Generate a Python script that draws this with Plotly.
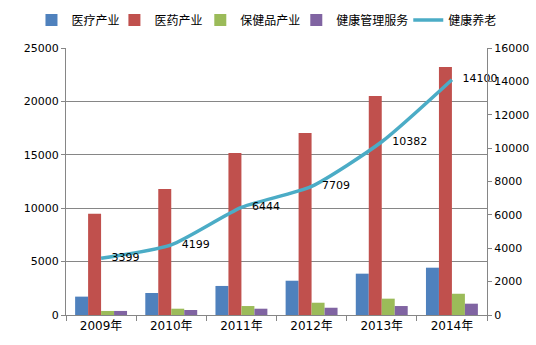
import plotly.graph_objects as go

years = ["2009年", "2010年", "2011年", "2012年", "2013年", "2014年"]
medical = [1720, 2060, 2720, 3210, 3870, 4430]
pharma = [9480, 11800, 15170, 17040, 20500, 23220]
healthprod = [380, 590, 840, 1150, 1530, 1990]
healthmgmt = [380, 470, 590, 680, 840, 1060]
elderly = [3399, 4199, 6444, 7709, 10382, 14100]

FONT = "DejaVu Sans, Noto Sans CJK SC, sans-serif"
GRID = "#868686"

fig = go.Figure()
bar_specs = [
    ("医疗产业", medical, "#4F81BD", "legend"),
    ("医药产业", pharma, "#C0504D", "legend2"),
    ("保健品产业", healthprod, "#9BBB59", "legend3"),
    ("健康管理服务", healthmgmt, "#8064A2", "legend4"),
]
for name, vals, col, lg in bar_specs:
    fig.add_trace(go.Bar(x=years, y=vals, name=name, legend=lg,
                         marker=dict(color=col, line=dict(width=0))))

fig.add_trace(go.Scatter(
    x=years, y=elderly, name="健康养老", yaxis="y2", legend="legend5",
    mode="lines+text", line=dict(color="#4BACC6", width=3.5, shape="spline", smoothing=0.6),
    text=["   " + str(v) for v in elderly], textposition="middle right",
    textfont=dict(family=FONT, size=11, color="#000000"), cliponaxis=False,
))

def leg(x):
    return dict(orientation="h", x=x, xanchor="left", y=1.105, yanchor="middle",
                font=dict(size=12, family="Noto Sans CJK SC, DejaVu Sans"),
                itemwidth=30, bgcolor="rgba(0,0,0,0)")

fig.update_layout(
    width=536, height=345,
    margin=dict(l=66, r=49, t=48, b=30, autoexpand=False),
    paper_bgcolor="white", plot_bgcolor="white",
    barmode="group", bargap=0.26, bargroupgap=0,
    font=dict(family=FONT, size=11, color="#000000"),
    showlegend=True,
    legend=leg(-0.082), legend2=leg(0.115), legend3=leg(0.319),
    legend4=leg(0.547), legend5=leg(0.813),
    xaxis=dict(showline=True, linecolor=GRID, linewidth=1, ticks="outside", tickson="boundaries",
               ticklen=5, tickcolor=GRID, showgrid=False,
               tickfont=dict(size=12, family=FONT)),
    yaxis=dict(range=[0, 25000], dtick=5000, tickformat="d", showline=True, linecolor=GRID, linewidth=1,
               ticks="outside", ticklen=4, tickcolor=GRID, showgrid=True, gridcolor=GRID,
               gridwidth=1, zeroline=False, tickfont=dict(size=11)),
    yaxis2=dict(range=[0, 16000], dtick=2000, tickformat="d", overlaying="y", side="right", showline=True,
                linecolor=GRID, linewidth=1, ticks="outside", ticklen=4, tickcolor=GRID,
                showgrid=False, zeroline=False, tickfont=dict(size=11)),
)

fig.write_html("out.html")
